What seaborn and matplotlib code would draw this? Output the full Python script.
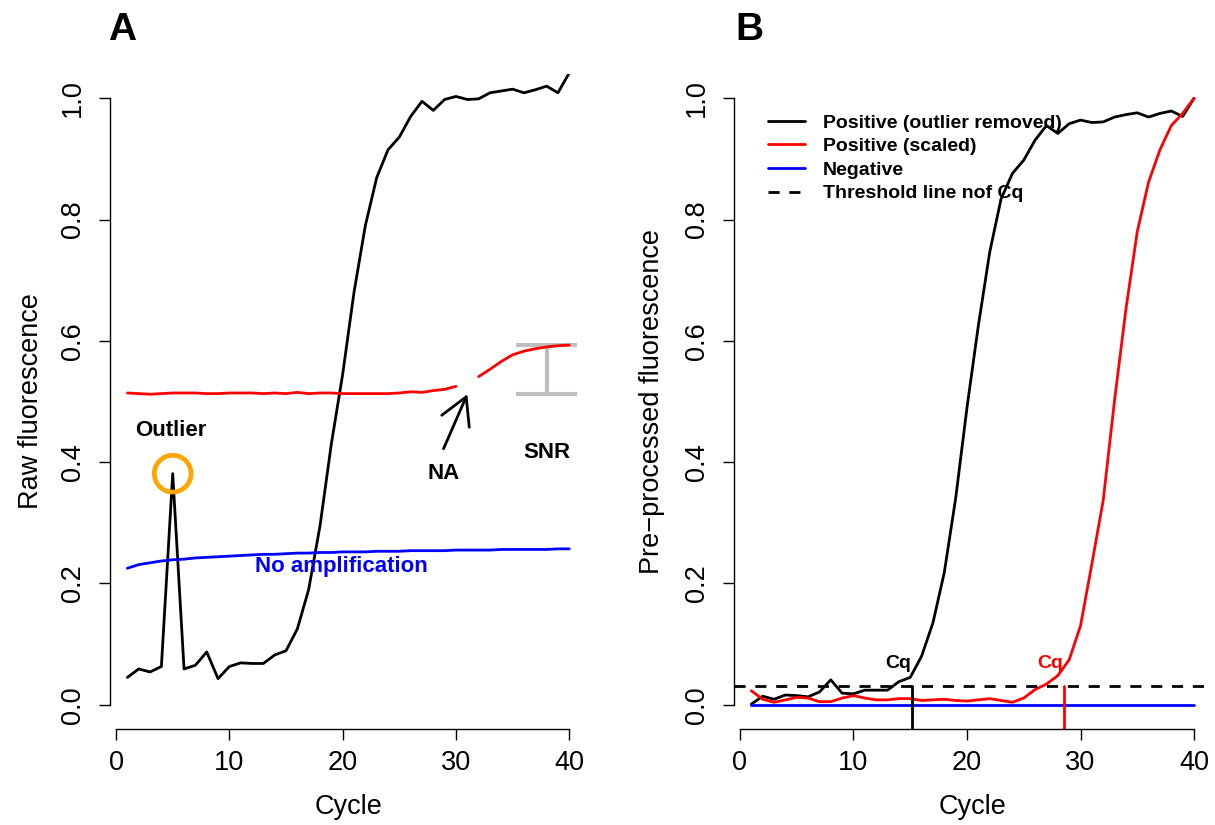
import numpy as np
import pandas as pd
import matplotlib
matplotlib.use("Agg")
import matplotlib.pyplot as plt
import seaborn as sns

# ---------------- data ----------------
cycles = list(range(1, 41))

# Panel A: raw fluorescence
raw_positive = [0.045, 0.059, 0.054, 0.063, 0.381, 0.059, 0.065, 0.087, 0.043, 0.063,
                0.069, 0.068, 0.068, 0.082, 0.089, 0.125, 0.190, 0.295, 0.430, 0.545,
                0.680, 0.790, 0.869, 0.915, 0.936, 0.970, 0.995, 0.980, 0.998, 1.003,
                0.998, 0.999, 1.009, 1.012, 1.015, 1.009, 1.014, 1.020, 1.009, 1.042]
raw_with_na = [0.514, 0.513, 0.512, 0.513, 0.514, 0.514, 0.514, 0.513, 0.513, 0.514,
               0.514, 0.514, 0.513, 0.514, 0.513, 0.515, 0.513, 0.514, 0.514, 0.513,
               0.513, 0.513, 0.513, 0.513, 0.514, 0.516, 0.515, 0.518, 0.520, 0.525,
               np.nan, 0.541, 0.553, 0.566, 0.577, 0.583, 0.587, 0.590, 0.592, 0.593]
raw_negative = [0.225, 0.231, 0.234, 0.237, 0.239, 0.240, 0.242, 0.243, 0.244, 0.245,
                0.246, 0.247, 0.248, 0.248, 0.249, 0.250, 0.250, 0.251, 0.251, 0.252,
                0.252, 0.252, 0.253, 0.253, 0.253, 0.254, 0.254, 0.254, 0.254, 0.255,
                0.255, 0.255, 0.255, 0.256, 0.256, 0.256, 0.256, 0.256, 0.257, 0.257]
outlier_cycle = 5
snr_cycle = 38

# Panel B: pre-processed fluorescence
pre_positive = [0.001, 0.014, 0.009, 0.016, 0.015, 0.013, 0.021, 0.041, 0.019, 0.018,
                0.024, 0.024, 0.024, 0.038, 0.045, 0.080, 0.135, 0.218, 0.340, 0.490,
                0.625, 0.746, 0.834, 0.876, 0.898, 0.931, 0.955, 0.942, 0.958, 0.964,
                0.960, 0.961, 0.969, 0.973, 0.976, 0.969, 0.975, 0.979, 0.970, 1.000]
pre_scaled = [0.023, 0.009, 0.004, 0.008, 0.012, 0.011, 0.005, 0.005, 0.011, 0.015,
              0.011, 0.008, 0.008, 0.010, 0.010, 0.007, 0.008, 0.009, 0.007, 0.006,
              0.008, 0.010, 0.007, 0.004, 0.011, 0.025, 0.034, 0.048, 0.074, 0.130,
              0.232, 0.337, 0.502, 0.652, 0.780, 0.862, 0.915, 0.955, 0.975, 1.000]
pre_negative = [0.0] * 40
threshold = 0.031
cq_values = [15.13, 28.57]
cq_colors = ["black", "red"]

x_ticks = [0, 10, 20, 30, 40]
y_ticks = [0.0, 0.2, 0.4, 0.6, 0.8, 1.0]
y_ticklabels = ["0.0", "0.2", "0.4", "0.6", "0.8", "1.0"]
legend_labels = ["Positive (outlier removed)", "Positive (scaled)", "Negative",
                 "Threshold line nof Cq"]

# ---------------- style ----------------
sns.set_style("ticks", rc={"axes.edgecolor": "black", "text.color": "black",
                           "xtick.color": "black", "ytick.color": "black",
                           "axes.labelcolor": "black"})
plt.rcParams["font.family"] = ["Liberation Sans", "DejaVu Sans"]

fig = plt.figure(figsize=(12.15, 8.25), dpi=100)
axA = fig.add_axes([0.0903, 0.1164, 0.3928, 0.7939])
axB = fig.add_axes([0.6038, 0.1164, 0.3935, 0.7939])

LW = 2.0
FS = 19.5


def style(ax, ylabel, ylab_x):
    ax.set_xlim(-0.56, 41.56)
    ax.set_ylim(-0.04, 1.04)
    sns.despine(ax=ax)
    ax.spines["left"].set_bounds(0, 1)
    ax.spines["bottom"].set_bounds(0, 40)
    for s in ("left", "bottom"):
        ax.spines[s].set_linewidth(1.0)
        ax.spines[s].set_color("black")
    ax.set_xticks(x_ticks)
    ax.set_xticklabels([str(t) for t in x_ticks])
    ax.set_yticks(y_ticks)
    ax.set_yticklabels(y_ticklabels)
    ax.tick_params(length=8, width=1.0, labelsize=FS, direction="out")
    ax.tick_params(axis="x", pad=7)
    ax.tick_params(axis="y", pad=9, labelrotation=90)
    for lab in ax.get_yticklabels():
        lab.set_va("center")
    ax.set_xlabel("Cycle", fontsize=FS, va="center")
    ax.xaxis.set_label_coords(0.5, -0.119)
    ax.set_ylabel(ylabel, fontsize=FS, va="center")
    ax.yaxis.set_label_coords(ylab_x, 0.5)


# ---------------- Panel A ----------------
dfA = pd.DataFrame({"cycle": cycles, "positive": raw_positive,
                    "na": raw_with_na, "negative": raw_negative})
dfA["segment"] = np.where(dfA["cycle"] < 31, 0, 1)

sns.lineplot(data=dfA, x="cycle", y="positive", ax=axA, color="black", lw=LW)
sns.lineplot(data=dfA.dropna(), x="cycle", y="na", units="segment", estimator=None,
             ax=axA, color="red", lw=LW)
sns.lineplot(data=dfA, x="cycle", y="negative", ax=axA, color="blue", lw=LW)

# outlier marker
out_val = raw_positive[cycles.index(outlier_cycle)]
axA.scatter([outlier_cycle], [out_val], s=700, facecolors="none",
            edgecolors="#FFA500", linewidths=3.4, zorder=5)
axA.text(outlier_cycle - 0.2, out_val + 0.071, "Outlier", fontsize=16,
         fontweight="bold", ha="center", va="center")

# NA arrow
na_idx = int(np.where(np.isnan(raw_with_na))[0][0])
na_cycle = cycles[na_idx]
na_level = np.nanmin(raw_with_na[:na_idx])
axA.annotate("", xy=(na_cycle, na_level), xytext=(na_cycle - 2.1, na_level - 0.09),
             arrowprops=dict(arrowstyle="->,head_length=0.8,head_width=0.45",
                             mutation_scale=24, lw=LW, color="black",
                             shrinkA=0, shrinkB=0))
axA.text(na_cycle - 2.05, na_level - 0.131, "NA", fontsize=16, fontweight="bold",
         ha="center", va="center")

# SNR bar
snr_top = np.nanmax(raw_with_na)
snr_bottom = np.nanmin(raw_with_na)
axA.plot([snr_cycle, snr_cycle], [snr_bottom, snr_top], color="#BEBEBE", lw=3,
         solid_capstyle="butt", zorder=1)
for yv in (snr_top, snr_bottom):
    axA.plot([snr_cycle - 2.7, snr_cycle + 2.7], [yv, yv], color="#BEBEBE", lw=3,
             solid_capstyle="butt", zorder=1)
axA.text(snr_cycle, 0.416, "SNR", fontsize=16, fontweight="bold",
         ha="center", va="center")

axA.text(19.86, 0.228, "No amplification", fontsize=16, fontweight="bold",
         color="blue", ha="center", va="center")

style(axA, "Raw fluorescence", -0.165)

# ---------------- Panel B ----------------
dfB = pd.DataFrame({"cycle": cycles, "positive": pre_positive,
                    "scaled": pre_scaled, "negative": pre_negative})

sns.lineplot(data=dfB, x="cycle", y="positive", ax=axB, color="black", lw=LW,
             label=legend_labels[0])
sns.lineplot(data=dfB, x="cycle", y="scaled", ax=axB, color="red", lw=LW,
             label=legend_labels[1])
sns.lineplot(data=dfB, x="cycle", y="negative", ax=axB, color="blue", lw=LW,
             label=legend_labels[2])
axB.axhline(threshold, color="black", lw=LW, ls=(0, (4, 3.5)),
            label=legend_labels[3])

ymin = -0.04
for cq, col in zip(cq_values, cq_colors):
    axB.plot([cq, cq], [ymin, threshold], color=col, lw=LW)
    axB.text(cq - 1.2, threshold + 0.037, "Cq", color=col, fontsize=14,
             fontweight="bold", ha="center", va="center")

style(axB, "Pre\u2212processed fluorescence", -0.17)

leg = axB.legend(loc="upper left", bbox_to_anchor=(0.072, 0.939), frameon=False,
                 borderaxespad=0, borderpad=0, handlelength=1.9,
                 handletextpad=0.93, labelspacing=0.31,
                 prop={"size": 14, "weight": "bold"})

fig.text(122 / 1215, 1 - 30 / 825, "A", fontsize=28, fontweight="bold",
         ha="center", va="center")
fig.text(749 / 1215, 1 - 30 / 825, "B", fontsize=28, fontweight="bold",
         ha="center", va="center")

fig.savefig("out.png", dpi=100)
